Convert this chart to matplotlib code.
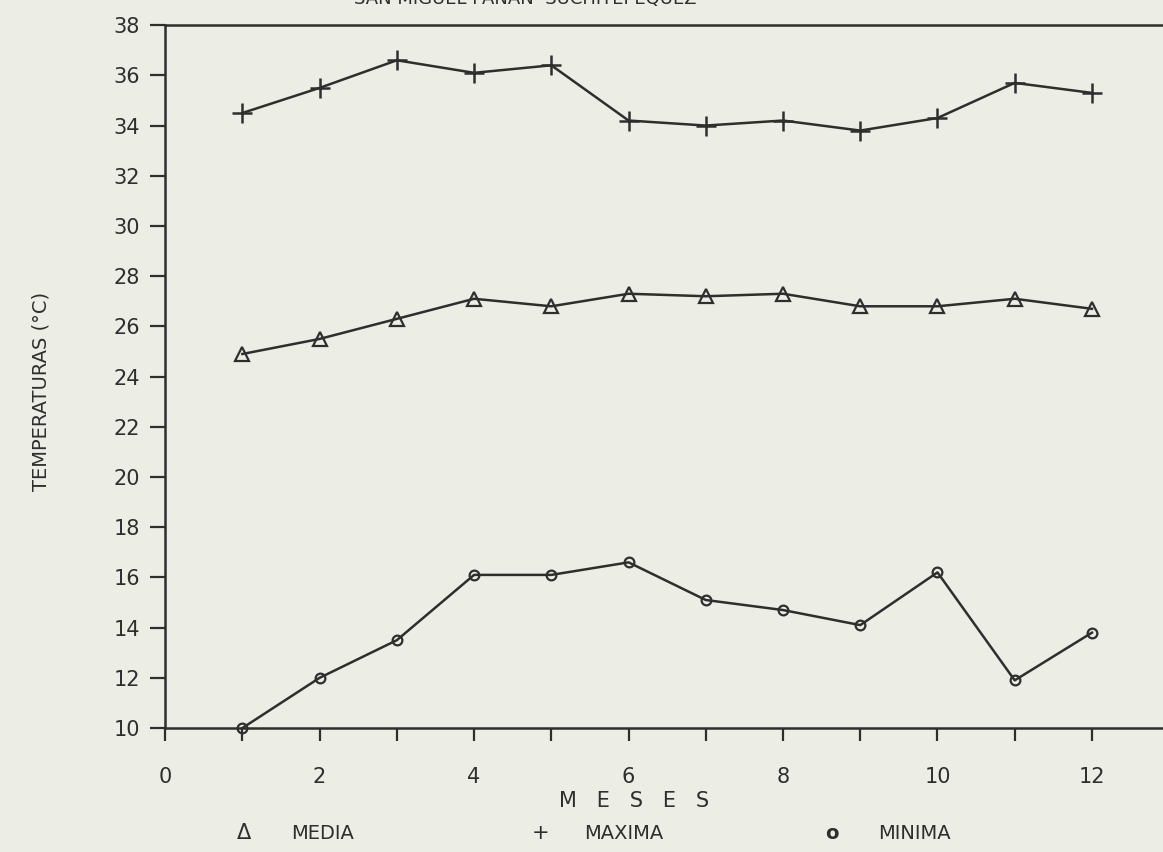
import numpy as np
import matplotlib
matplotlib.use("Agg")
import matplotlib.pyplot as plt
from matplotlib.ticker import MultipleLocator

# monthly temperatures
meses = np.arange(1, 13)
maxima = [34.5, 35.5, 36.6, 36.1, 36.4, 34.2, 34.0, 34.2, 33.8, 34.3, 35.7, 35.3]
media = [24.9, 25.5, 26.3, 27.1, 26.8, 27.3, 27.2, 27.3, 26.8, 26.8, 27.1, 26.7]
minima = [10.0, 12.0, 13.5, 16.1, 16.1, 16.6, 15.1, 14.7, 14.1, 16.2, 11.9, 13.8]

titulo = "SAN MIGUEL PANAN  SUCHITEPEQUEZ"
ink = "#2e2e2e"
paper = "#eceee6"

plt.rcParams['font.family'] = ['DejaVu Sans']

fig = plt.figure(figsize=(11.63, 8.52), dpi=100, facecolor=paper)
ax = fig.add_axes([0.142, 0.1455, 0.858, 0.825])
ax.set_facecolor(paper)

ax.plot(meses, maxima, color=ink, lw=1.8, marker='+', ms=15, mew=1.8, clip_on=False)
ax.plot(meses, media, color=ink, lw=1.8, marker='^', ms=10, mfc='none', mew=1.6, clip_on=False)
ax.plot(meses, minima, color=ink, lw=1.8, marker='o', ms=7, mfc='none', mew=1.6, clip_on=False)

ax.set_xlim(0, 12.92)
ax.set_ylim(10, 38)
ax.xaxis.set_major_locator(MultipleLocator(2))
ax.xaxis.set_minor_locator(MultipleLocator(1))
ax.yaxis.set_major_locator(MultipleLocator(2))

ax.spines['right'].set_visible(False)
for s in ['left', 'bottom', 'top']:
    ax.spines[s].set_color(ink)
    ax.spines[s].set_linewidth(1.8)

ax.tick_params(axis='y', direction='out', length=11, width=1.6, pad=7,
               colors=ink, labelsize=15)
ax.tick_params(axis='x', which='both', direction='out', length=9, width=1.6,
               pad=19, colors=ink, labelsize=15)
ax.tick_params(axis='x', which='minor', labelbottom=False)
# x=0 has no tick mark on the axis
ax.xaxis.get_major_ticks()[0].tick1line.set_visible(False)

fig.text(0.035, 0.54, "TEMPERATURAS (°C)", rotation=90, ha='center', va='center',
         fontsize=14, color=ink)
fig.text(0.545, 0.060, "M   E   S   E   S", ha='center', va='center', fontsize=15, color=ink)
fig.text(0.210, 0.022, "Δ", ha='center', va='center', fontsize=15, color=ink)
fig.text(0.250, 0.022, "MEDIA", ha='left', va='center', fontsize=14, color=ink)
fig.text(0.465, 0.022, "+", ha='center', va='center', fontsize=15, color=ink)
fig.text(0.502, 0.022, "MAXIMA", ha='left', va='center', fontsize=14, color=ink)
fig.text(0.715, 0.022, "o", ha='center', va='center', fontsize=14, color=ink,
         fontweight='bold')
fig.text(0.755, 0.022, "MINIMA", ha='left', va='center', fontsize=14, color=ink)

# title is cut off by the top edge of the scan
fig.text(0.452, 0.991, titulo, ha='center', va='bottom', fontsize=13, color=ink)

fig.savefig("out.png", dpi=100, facecolor=paper)
